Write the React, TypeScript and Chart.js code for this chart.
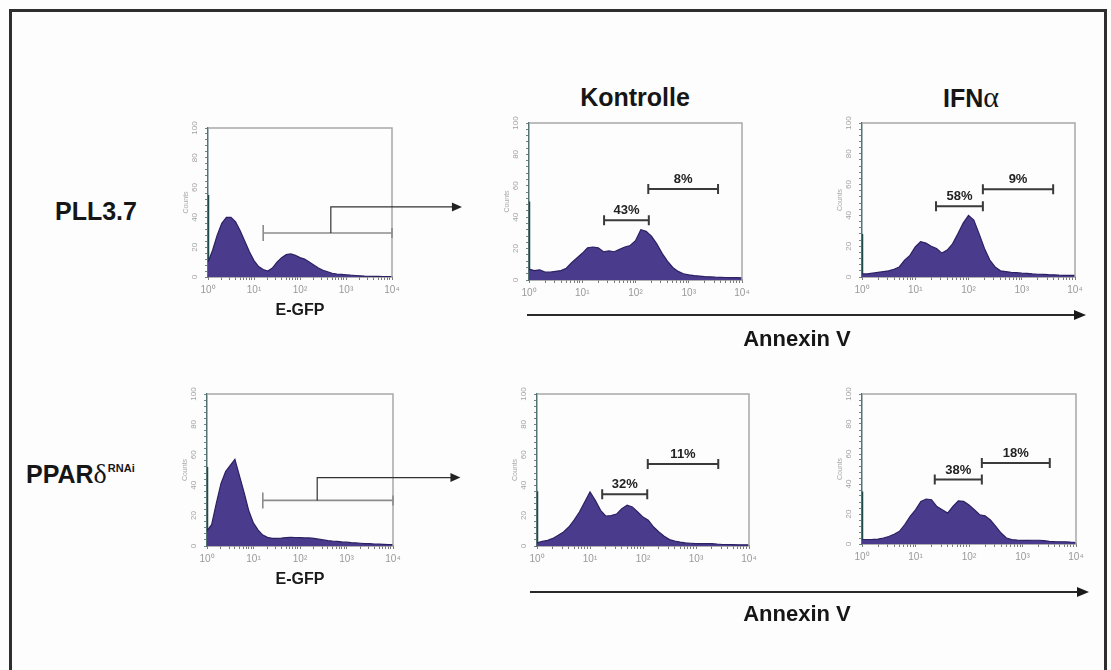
import React, { useEffect, useRef } from "react";
import { Chart, registerables } from "chart.js";
Chart.register(...registerables);

// ---------- data ----------
// histogram bins on a log10 scale (decades of fluorescence intensity)
const BINS = [
  0.0, 0.1, 0.2, 0.3, 0.4, 0.5, 0.6, 0.7, 0.8, 0.9,
  1.0, 1.1, 1.2, 1.3, 1.4, 1.5, 1.6, 1.7, 1.8, 1.9,
  2.0, 2.1, 2.2, 2.3, 2.4, 2.5, 2.6, 2.7, 2.8, 2.9,
  3.0, 3.1, 3.2, 3.3, 3.4, 3.5, 3.6, 3.7, 3.8, 3.9, 4.0,
];

const egfpPll = [10, 18, 28, 36, 40, 40, 37, 31, 24, 17, 11, 7, 5, 4, 6, 10, 13, 15, 15.5, 14.5, 13, 12, 10, 8, 6, 4.5, 3.5, 2.5, 2, 1.8, 1.5, 1.2, 1, 0.8, 0.6, 0.5, 0.4, 0.4, 0.3, 0.3, 0.3];
const annexCtrlPll = [7, 6, 6.5, 5, 5, 5.5, 6, 7.5, 11, 14, 17, 20.5, 21, 20.5, 18, 18.5, 18, 19.5, 21, 22, 25, 32, 31, 28, 23, 17, 12, 8, 5.5, 4, 3.3, 2.8, 2.5, 2.2, 2, 1.8, 1.7, 1.6, 1.5, 1.5, 1.4];
const annexIfnPll = [2, 2, 2.5, 3, 3.5, 4, 5, 6.5, 11, 14, 19.5, 23, 22, 20, 18.5, 15.5, 17.5, 21.5, 28, 35, 40, 37, 28, 18.5, 11, 6.5, 4, 3.5, 3, 2.8, 2.5, 2.3, 2, 1.8, 1.7, 1.5, 1.4, 1.2, 1.1, 1, 1];
const egfpPpar = [10, 14, 28, 41, 49, 53, 57, 46, 35, 23, 15, 10.5, 7.2, 5.7, 5, 5, 5.2, 5.5, 5.7, 5.6, 5.5, 5.3, 5.3, 5, 4.5, 4, 3.5, 3.2, 3, 2.7, 2.5, 2.2, 2, 1.8, 1.6, 1.5, 1.3, 1.2, 1.1, 1, 1];
const annexCtrlPpar = [2, 3, 3.7, 5, 7, 9.2, 12.5, 17, 22.4, 29, 35.5, 30, 23.5, 19.6, 20, 21, 24.6, 26.8, 25.7, 22.4, 19, 17, 12.5, 9.2, 6.4, 4.2, 3.3, 2.6, 2, 1.8, 1.5, 1.5, 1.5, 1.5, 1.2, 1, 1, 0.9, 0.8, 0.8, 0.8];
const annexIfnPpar = [3, 3, 3.1, 3.3, 4, 5, 6.5, 8.4, 13, 18.4, 22.8, 28.4, 30, 29.5, 25, 22.8, 20.6, 25, 28.8, 28.4, 26, 22.8, 19.5, 18.8, 16, 11.7, 7.3, 4, 2.9, 2.6, 2.4, 2.4, 2.5, 2.5, 2.2, 1.8, 1.6, 1.5, 1.5, 1.2, 1];

// first-bin (10^0) spike heights
const spikePll = [55, 50, 28];
const spikePpar = [52, 36, 35];

const Y_TICKS = [0, 20, 40, 60, 80, 100];
const X_TICK_LABELS = ["10\u2070", "10\u00b9", "10\u00b2", "10\u00b3", "10\u2074"];

// gates: [from decade, to decade, count level, label]
type Gate = [number, number, number, string];
const gatesCtrlPll: Gate[] = [[1.41, 2.25, 38, "43%"], [2.24, 3.55, 58, "8%"]];
const gatesIfnPll: Gate[] = [[1.39, 2.27, 46, "58%"], [2.27, 3.59, 57, "9%"]];
const gatesCtrlPpar: Gate[] = [[1.23, 2.08, 34, "32%"], [2.09, 3.42, 54, "11%"]];
const gatesIfnPpar: Gate[] = [[1.36, 2.24, 43, "38%"], [2.24, 3.51, 54, "18%"]];
const gatesEgfpPll: Gate[] = [[1.2, 4.0, 29.5, ""]];
const gatesEgfpPpar: Gate[] = [[1.2, 4.0, 30, ""]];
// connector: [x decade of riser, count level of arrow, arrow tip decade]
const connectorPll = [2.67, 47, 5.52];
const connectorPpar = [2.37, 45, 5.45];

// ---------- style / layout ----------
const FONT = '"Liberation Sans", Arial, Helvetica, sans-serif';
const FILL = "#4b3b8c";
const EDGE = "#2b2163";

type Box = { l: number; t: number; r: number; b: number };

function overlayPlugin(gates: Gate[], egfp: boolean, connector: number[] | null) {
  return {
    id: "overlay",
    afterDraw(chart: any) {
      const { ctx, chartArea } = chart;
      const xs = chart.scales.x;
      const ys = chart.scales.y;
      ctx.save();
      // frame top + right
      ctx.strokeStyle = "#a8a8a8";
      ctx.lineWidth = 1.5;
      ctx.beginPath();
      ctx.moveTo(chartArea.left, chartArea.top);
      ctx.lineTo(chartArea.right, chartArea.top);
      ctx.lineTo(chartArea.right, chartArea.bottom);
      ctx.stroke();
      // rotated y labels
      ctx.fillStyle = "#a3a3a3";
      ctx.font = `8px ${FONT}`;
      ctx.textAlign = "center";
      ctx.textBaseline = "middle";
      for (const v of Y_TICKS) {
        const py = ys.getPixelForValue(v);
        ctx.save();
        ctx.translate(chartArea.left - 13, py);
        ctx.rotate(-Math.PI / 2);
        ctx.fillText(String(v), 0, 0);
        ctx.restore();
      }
      // gates
      for (const [x1, x2, y, label] of gates) {
        const p1 = xs.getPixelForValue(x1);
        const p2 = xs.getPixelForValue(x2);
        const py = ys.getPixelForValue(y);
        ctx.strokeStyle = egfp ? "#8c8c8c" : "#3a3a3a";
        ctx.lineWidth = egfp ? 1.6 : 2;
        ctx.beginPath();
        ctx.moveTo(p1, py);
        ctx.lineTo(p2, py);
        ctx.moveTo(p1, py - (egfp ? 8 : 5));
        ctx.lineTo(p1, py + (egfp ? 8 : 5));
        ctx.moveTo(p2, py - 5);
        ctx.lineTo(p2, py + 5);
        ctx.stroke();
        if (label) {
          ctx.fillStyle = "#222";
          ctx.font = `bold 13px ${FONT}`;
          ctx.textAlign = "center";
          ctx.textBaseline = "bottom";
          ctx.fillText(label, (p1 + p2) / 2, py - 3);
        }
      }
      if (connector) {
        const [cx, cy, ax] = connector;
        const g = gates[0];
        const px = xs.getPixelForValue(cx);
        const py0 = ys.getPixelForValue(g[2]);
        const py1 = ys.getPixelForValue(cy);
        const tip = xs.getPixelForValue(ax);
        ctx.strokeStyle = "#333";
        ctx.lineWidth = 1.2;
        ctx.beginPath();
        ctx.moveTo(px, py0);
        ctx.lineTo(px, py1);
        ctx.lineTo(tip - 8, py1);
        ctx.stroke();
        ctx.fillStyle = "#222";
        ctx.beginPath();
        ctx.moveTo(tip, py1);
        ctx.lineTo(tip - 10, py1 - 4.5);
        ctx.lineTo(tip - 10, py1 + 4.5);
        ctx.closePath();
        ctx.fill();
      }
      ctx.restore();
    },
  };
}

function Histo(props: {
  box: Box;
  values: number[];
  spike: number;
  gates: Gate[];
  connector?: number[] | null;
  xTitle?: string;
}) {
  const { box, values, spike, gates, connector = null, xTitle } = props;
  const ref = useRef<HTMLCanvasElement>(null);
  const PAD_L = 4, Y_W = 26, PAD_T = 8, PAD_B = 2;
  const X_H = xTitle ? 44 : 22;
  const padRight = connector ? 82 : 14;
  const width = PAD_L + Y_W + (box.r - box.l) + padRight;
  const height = PAD_T + (box.b - box.t) + X_H + PAD_B;
  const left = box.l - PAD_L - Y_W;
  const top = box.t - PAD_T;

  useEffect(() => {
    const canvas = ref.current;
    if (!canvas) return;
    const chart = new Chart(canvas, {
      type: "line",
      data: {
        datasets: [
          {
            data: BINS.map((x, i) => ({ x, y: values[i] })),
            fill: "origin",
            backgroundColor: FILL,
            borderColor: EDGE,
            borderWidth: 1.2,
            pointRadius: 0,
            tension: 0,
          },
          {
            data: [{ x: 0, y: 0 }, { x: 0, y: spike }],
            fill: false,
            borderColor: "#1f4a4a",
            borderWidth: 2.5,
            pointRadius: 0,
          },
        ],
      },
      options: {
        animation: false,
        responsive: false,
        maintainAspectRatio: false,
        events: [],
        layout: { padding: { left: PAD_L, top: PAD_T, right: padRight, bottom: PAD_B } },
        plugins: { legend: { display: false }, tooltip: { enabled: false } },
        scales: {
          x: {
            type: "linear",
            min: 0,
            max: 4,
            afterBuildTicks: (axis: any) => {
              const t: { value: number }[] = [];
              for (let d = 0; d < 4; d++) {
                for (let k = 1; k <= 9; k++) t.push({ value: d + Math.log10(k) });
              }
              t.push({ value: 4 });
              axis.ticks = t;
            },
            afterFit: (s: any) => {
              s.height = X_H;
            },
            ticks: {
              autoSkip: false,
              maxRotation: 0,
              minRotation: 0,
              padding: 4,
              color: "#999999",
              font: { size: 10, family: FONT },
              callback: (v: any) => {
                const i = Math.round(v);
                return Math.abs(v - i) < 1e-6 ? X_TICK_LABELS[i] : "";
              },
            },
            grid: { display: true, drawOnChartArea: false, drawTicks: true, tickLength: 3, color: "#7a7a7a" },
            border: { display: true, color: "#666", width: 1.5 },
            title: xTitle
              ? {
                  display: true,
                  text: xTitle,
                  color: "#1a1a1a",
                  font: { size: 16, weight: "bold", family: FONT },
                  padding: { top: 0, bottom: 1 },
                }
              : { display: false },
          },
          y: {
            min: 0,
            max: 100,
            afterBuildTicks: (axis: any) => {
              const t: { value: number }[] = [];
              for (let v = 0; v <= 100; v += 4) t.push({ value: v });
              axis.ticks = t;
            },
            afterFit: (s: any) => {
              s.width = Y_W;
            },
            ticks: { display: false },
            grid: { display: true, drawOnChartArea: false, drawTicks: true, tickLength: 3, color: "#6f8a8a" },
            border: { display: true, color: "#557272", width: 1.5 },
            title: {
              display: true,
              text: "Counts",
              color: "#aaaaaa",
              font: { size: 7, family: FONT },
              padding: 0,
            },
          },
        },
      } as any,
      plugins: [overlayPlugin(gates, !!xTitle, connector) as any],
    });
    return () => chart.destroy();
  }, []);

  return (
    <canvas
      ref={ref}
      width={width}
      height={height}
      style={{ position: "absolute", left, top, width, height }}
    />
  );
}

function Label(props: { cx?: number; x?: number; cy: number; size: number; children: any }) {
  const { cx, x, cy, size, children } = props;
  const style: any = {
    position: "absolute",
    top: cy,
    fontFamily: FONT,
    fontWeight: "bold",
    fontSize: size,
    lineHeight: 1,
    color: "#161616",
    whiteSpace: "nowrap",
  };
  if (cx !== undefined) {
    style.left = cx;
    style.transform = "translate(-50%, -50%)";
  } else {
    style.left = x;
    style.transform = "translateY(-50%)";
  }
  return <div style={style}>{children}</div>;
}

export default function App() {
  const P1: Box = { l: 208, t: 128, r: 392, b: 277 };
  const P2: Box = { l: 529, t: 123, r: 742, b: 280 };
  const P3: Box = { l: 862, t: 123, r: 1075, b: 277 };
  const P4: Box = { l: 207, t: 394, r: 393, b: 546 };
  const P5: Box = { l: 537, t: 394, r: 749, b: 546 };
  const P6: Box = { l: 862, t: 394, r: 1076, b: 544 };

  return (
    <div
      style={{
        position: "absolute",
        left: 0,
        top: 0,
        width: 1111,
        height: 670,
        overflow: "hidden",
        background: "#fdfdfd",
      }}
    >
      <div
        style={{
          position: "absolute",
          left: 9,
          top: 9,
          width: 1098,
          height: 700,
          boxSizing: "border-box",
          borderTop: "3px solid #2e2e2e",
          borderLeft: "3px solid #2e2e2e",
          borderRight: "3px solid #2e2e2e",
        }}
      />

      <Histo box={P1} values={egfpPll} spike={spikePll[0]} gates={gatesEgfpPll} connector={connectorPll} xTitle="E-GFP" />
      <Histo box={P2} values={annexCtrlPll} spike={spikePll[1]} gates={gatesCtrlPll} />
      <Histo box={P3} values={annexIfnPll} spike={spikePll[2]} gates={gatesIfnPll} />
      <Histo box={P4} values={egfpPpar} spike={spikePpar[0]} gates={gatesEgfpPpar} connector={connectorPpar} xTitle="E-GFP" />
      <Histo box={P5} values={annexCtrlPpar} spike={spikePpar[1]} gates={gatesCtrlPpar} />
      <Histo box={P6} values={annexIfnPpar} spike={spikePpar[2]} gates={gatesIfnPpar} />

      <Label cx={635} cy={97} size={25}>Kontrolle</Label>
      <Label cx={971} cy={97} size={25}>
        IFN
        <span style={{ fontFamily: '"Liberation Serif", "DejaVu Serif", serif', fontWeight: "normal", fontSize: 30 }}>α</span>
      </Label>
      <Label x={55} cy={211} size={25}>PLL3.7</Label>
      <Label x={26} cy={474} size={25}>
        PPAR
        <span style={{ fontFamily: '"Liberation Serif", "DejaVu Serif", serif', fontWeight: "normal", fontSize: 28 }}>δ</span>
        <span style={{ fontSize: 11, position: "relative", top: -11, marginLeft: 1 }}>RNAi</span>
      </Label>

      <svg width={1111} height={670} style={{ position: "absolute", left: 0, top: 0 }}>
        <line x1={527} y1={315} x2={1076} y2={315} stroke="#2a2a2a" strokeWidth={2.2} />
        <polygon points="1086,315 1074,310 1074,320" fill="#1a1a1a" />
        <line x1={530} y1={592} x2={1079} y2={592} stroke="#2a2a2a" strokeWidth={2.2} />
        <polygon points="1089,592 1077,587 1077,597" fill="#1a1a1a" />
      </svg>

      <Label cx={797} cy={339} size={22}>Annexin V</Label>
      <Label cx={797} cy={614} size={22}>Annexin V</Label>
    </div>
  );
}
